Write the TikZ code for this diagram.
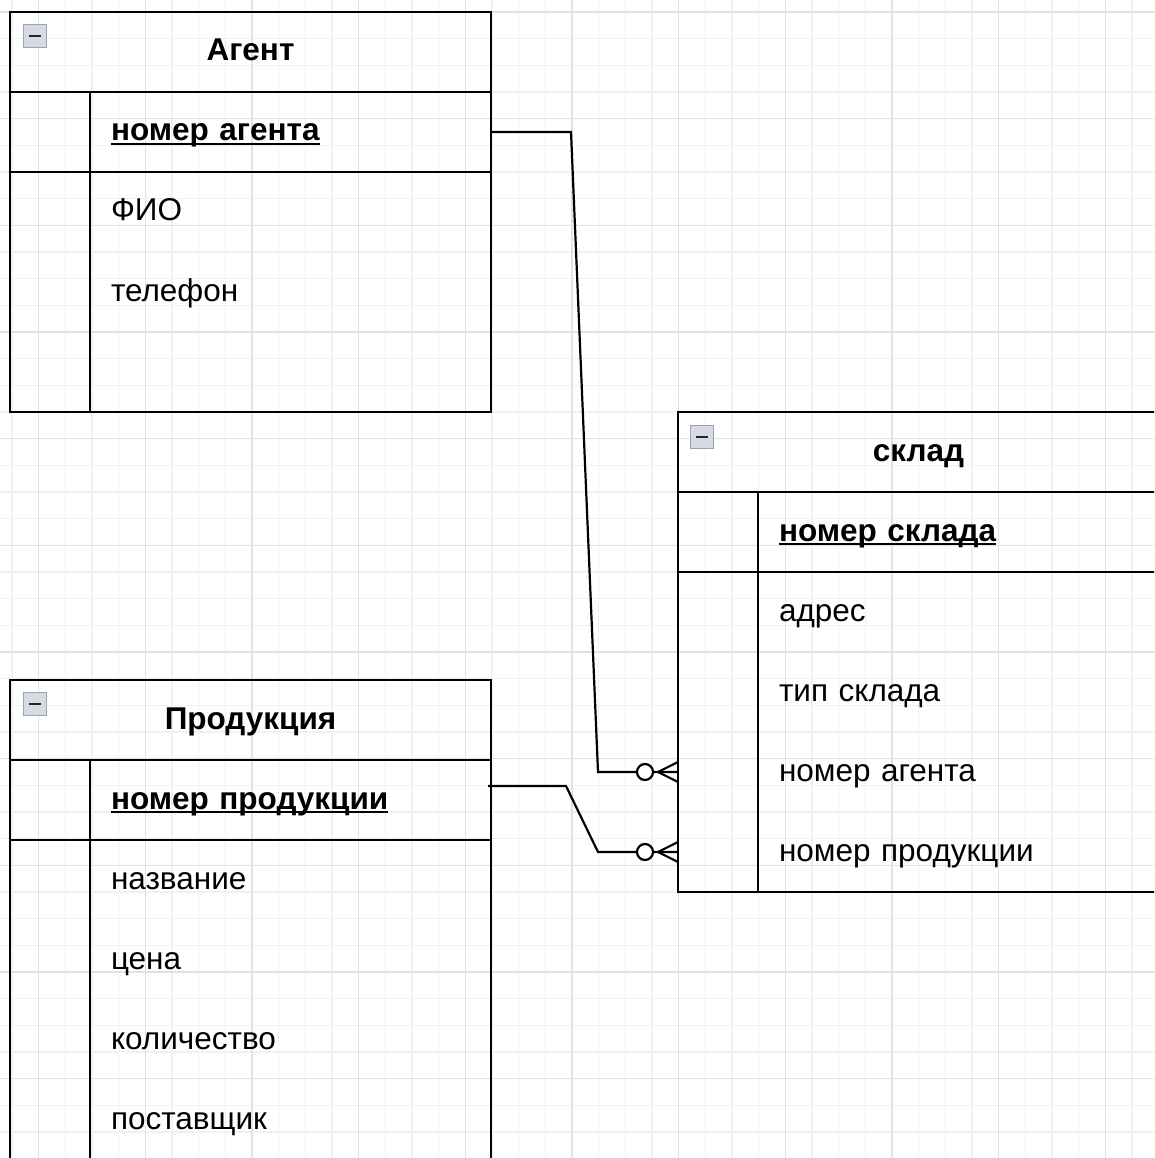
\documentclass[tikz,border=0pt]{standalone}
\usepackage{fontspec}
\setmainfont{Liberation Sans}
\usetikzlibrary{positioning,calc}

\definecolor{gridminor}{HTML}{F1F1F1}
\definecolor{gridmajor}{HTML}{E2E2E2}
\definecolor{foldfill}{HTML}{D5DAE3}
\definecolor{folddraw}{HTML}{9BA3B3}

\newcommand{\tablefont}{\fontsize{31.5}{38}\selectfont}
\newcommand{\keyname}[1]{\setbox0\hbox{#1}\rlap{\rule[-4pt]{\wd0}{2.4pt}}\box0}

\tikzset{
  manyend/.pic={
    \draw[relline, fill=white] (-33,0) circle (8pt);
    \draw[relline] (-20,0) -- (0,-10) (-20,0) -- (0,10);
  }
}

\begin{document}
\begin{tikzpicture}[x=1pt, y=-1pt,
    tableline/.style={draw=black, line width=2.2pt},
    headbox/.style={rectangle, tableline, minimum width=481pt, minimum height=80pt, inner sep=0pt, outer sep=0pt, anchor=north west, font=\tablefont\bfseries, text height=21pt, text depth=3pt},
    keybox/.style={rectangle, tableline, minimum width=481pt, minimum height=80pt, inner sep=0pt, outer sep=0pt},
    bodybox/.style={keybox, minimum height=#1},
    fieldrow/.style={rectangle, minimum width=401pt, minimum height=80pt, text width=359pt, align=left, inner xsep=21pt, inner ysep=0pt, outer sep=0pt, anchor=north west, text height=21pt, text depth=3pt, font=\tablefont},
    keyrow/.style={fieldrow, font=\tablefont\bfseries},
    foldbox/.style={rectangle, minimum size=23pt, inner sep=0pt, fill=foldfill, draw=folddraw, line width=1pt,
      path picture={\draw[line width=2.6pt, black!85] ([xshift=-6pt]path picture bounding box.center) -- ([xshift=6pt]path picture bounding box.center);}},
    relline/.style={draw=black, line width=2.2pt}]
  \useasboundingbox (0,0) rectangle (1154,1158);
  \clip (0,0) rectangle (1154,1158);

  % grid
  \foreach \k in {-2,...,44} {
    \draw[gridminor, line width=1.5pt] ({38.67+26.667*\k},0) -- ++(0,1158);
    \draw[gridminor, line width=1.5pt] (0,{12+26.667*\k}) -- ++(1154,0);
  }
  \foreach \k in {-1,...,11} {
    \draw[gridmajor, line width=1.5pt] ({38.67+106.67*\k},0) -- ++(0,1158);
    \draw[gridmajor, line width=1.5pt] (0,{12+106.67*\k}) -- ++(1154,0);
  }

  % Агент
  \node[headbox] (agent) at (10,12) {Агент};
  \node[keybox, below=0pt of agent] (agentkey) {};
  \node[bodybox=240pt, below=0pt of agentkey] (agentbody) {};
  \draw[tableline] ([xshift=80pt]agentkey.north west) -- ([xshift=80pt]agentbody.south west);
  \node[foldbox] (agentfold) at ([xshift=25pt, yshift=-24pt]agent.north west) {};
  \node[keyrow] (agentid) at ([xshift=80pt]agentkey.north west) {\keyname{номер агента}};
  \node[fieldrow] (agentfio) at ([xshift=80pt]agentbody.north west) {ФИО};
  \node[fieldrow, below=0pt of agentfio] (agentphone) {телефон};

  % склад
  \node[headbox] (sklad) at (678,412) {склад};
  \node[keybox, below=0pt of sklad] (skladkey) {};
  \node[bodybox=320pt, below=0pt of skladkey] (skladbody) {};
  \draw[tableline] ([xshift=80pt]skladkey.north west) -- ([xshift=80pt]skladbody.south west);
  \node[foldbox] (skladfold) at ([xshift=24pt, yshift=-25pt]sklad.north west) {};
  \node[keyrow] (skladid) at ([xshift=80pt]skladkey.north west) {\keyname{номер склада}};
  \node[fieldrow] (skladaddr) at ([xshift=80pt]skladbody.north west) {адрес};
  \node[fieldrow, below=0pt of skladaddr] (skladtype) {тип склада};
  \node[fieldrow, below=0pt of skladtype] (skladagent) {номер агента};
  \node[fieldrow, below=0pt of skladagent] (skladprod) {номер продукции};

  % Продукция
  \node[headbox] (prod) at (10,680) {Продукция};
  \node[keybox, below=0pt of prod] (prodkey) {};
  \node[bodybox=320pt, below=0pt of prodkey] (prodbody) {};
  \draw[tableline] ([xshift=80pt]prodkey.north west) -- ([xshift=80pt]prodbody.south west);
  \node[foldbox] (prodfold) at ([xshift=25pt, yshift=-24pt]prod.north west) {};
  \node[keyrow] (prodid) at ([xshift=80pt]prodkey.north west) {\keyname{номер продукции}};
  \node[fieldrow] (prodname) at ([xshift=80pt]prodbody.north west) {название};
  \node[fieldrow, below=0pt of prodname] (prodprice) {цена};
  \node[fieldrow, below=0pt of prodprice] (prodqty) {количество};
  \node[fieldrow, below=0pt of prodqty] (prodsupp) {поставщик};

  % связи
  \draw[relline] (agentid.east) -- ++(80,0) -- ($(skladbody.west |- skladagent)+(-80,0)$) -- (skladbody.west |- skladagent);
  \pic at (skladbody.west |- skladagent) {manyend};
  \draw[relline] ([xshift=-3pt, yshift=14pt]prodid.east) -- ++(78,0) -- ($(skladbody.west |- skladprod)+(-80,0)$) -- (skladbody.west |- skladprod);
  \pic at (skladbody.west |- skladprod) {manyend};
\end{tikzpicture}
\end{document}
